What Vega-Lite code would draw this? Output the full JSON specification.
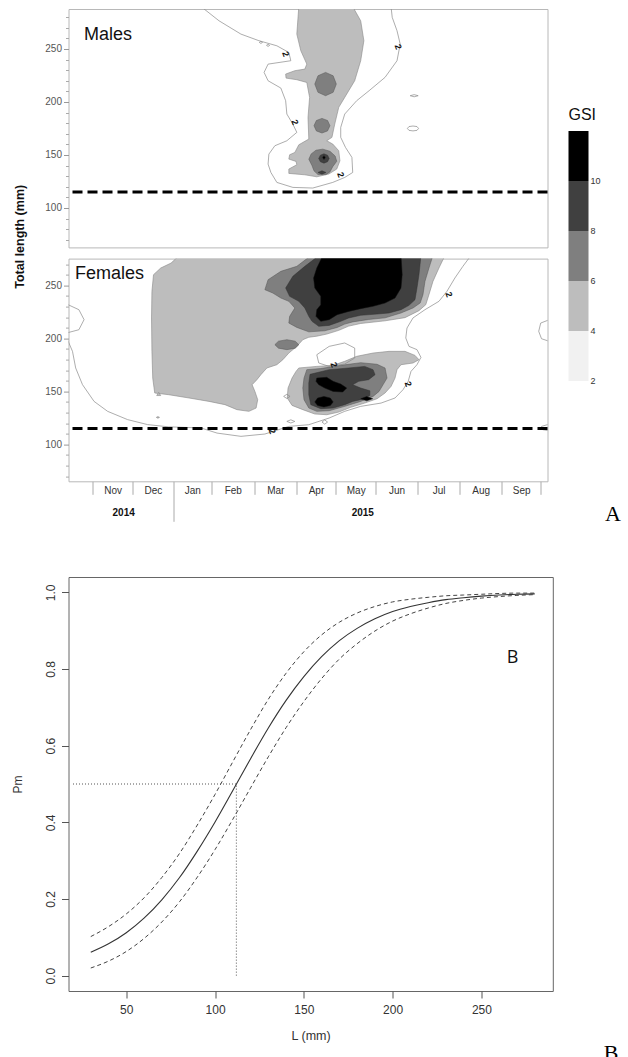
{
"$schema":"https://vega.github.io/schema/vega-lite/v6.json",
"padding":{"left":10.5,"top":8,"right":0,"bottom":0},
"config":{"font":"Liberation Sans","view":{"stroke":null},"axis":{"grid":false,"domain":false}},
"datasets":{
"poly":[
{"p":"M","id":"M4","lev":4,"o":1,"t":5.77,"L":290},{"p":"M","id":"M4","lev":4,"o":2,"t":5.72,"L":264.0},{"p":"M","id":"M4","lev":4,"o":3,"t":5.82,"L":248.3},{"p":"M","id":"M4","lev":4,"o":4,"t":5.97,"L":235.7},{"p":"M","id":"M4","lev":4,"o":5,"t":5.92,"L":231.0},{"p":"M","id":"M4","lev":4,"o":6,"t":5.67,"L":229.5},{"p":"M","id":"M4","lev":4,"o":7,"t":5.44,"L":226.3},{"p":"M","id":"M4","lev":4,"o":8,"t":5.45,"L":222.5},{"p":"M","id":"M4","lev":4,"o":9,"t":5.72,"L":221.0},{"p":"M","id":"M4","lev":4,"o":10,"t":5.97,"L":218.4},{"p":"M","id":"M4","lev":4,"o":11,"t":6.04,"L":204.3},{"p":"M","id":"M4","lev":4,"o":12,"t":6.00,"L":185.4},{"p":"M","id":"M4","lev":4,"o":13,"t":6.02,"L":165.0},{"p":"M","id":"M4","lev":4,"o":14,"t":5.77,"L":159.6},{"p":"M","id":"M4","lev":4,"o":15,"t":5.67,"L":152.4},{"p":"M","id":"M4","lev":4,"o":16,"t":5.54,"L":150.2},{"p":"M","id":"M4","lev":4,"o":17,"t":5.52,"L":146.1},{"p":"M","id":"M4","lev":4,"o":18,"t":5.70,"L":143.9},{"p":"M","id":"M4","lev":4,"o":19,"t":5.72,"L":140.8},{"p":"M","id":"M4","lev":4,"o":20,"t":5.52,"L":136.7},{"p":"M","id":"M4","lev":4,"o":21,"t":5.52,"L":132.6},{"p":"M","id":"M4","lev":4,"o":22,"t":5.92,"L":131.3},{"p":"M","id":"M4","lev":4,"o":23,"t":6.22,"L":129.4},{"p":"M","id":"M4","lev":4,"o":24,"t":6.52,"L":132.0},{"p":"M","id":"M4","lev":4,"o":25,"t":6.72,"L":136.7},{"p":"M","id":"M4","lev":4,"o":26,"t":6.80,"L":144.5},{"p":"M","id":"M4","lev":4,"o":27,"t":6.77,"L":154.0},{"p":"M","id":"M4","lev":4,"o":28,"t":6.62,"L":160.3},{"p":"M","id":"M4","lev":4,"o":29,"t":6.47,"L":163.4},{"p":"M","id":"M4","lev":4,"o":30,"t":6.60,"L":166.6},{"p":"M","id":"M4","lev":4,"o":31,"t":6.67,"L":179.1},{"p":"M","id":"M4","lev":4,"o":32,"t":6.77,"L":194.9},{"p":"M","id":"M4","lev":4,"o":33,"t":6.92,"L":204.3},{"p":"M","id":"M4","lev":4,"o":34,"t":7.17,"L":220.0},{"p":"M","id":"M4","lev":4,"o":35,"t":7.32,"L":238.9},{"p":"M","id":"M4","lev":4,"o":36,"t":7.40,"L":257.8},{"p":"M","id":"M4","lev":4,"o":37,"t":7.32,"L":276.6},{"p":"M","id":"M4","lev":4,"o":38,"t":7.12,"L":290},{"p":"M","id":"M4","lev":4,"o":39,"t":5.77,"L":290},
{"p":"M","id":"M6a","lev":6,"o":1,"t":6.17,"L":216.9},{"p":"M","id":"M6a","lev":6,"o":2,"t":6.25,"L":224.7},{"p":"M","id":"M6a","lev":6,"o":3,"t":6.44,"L":227.9},{"p":"M","id":"M6a","lev":6,"o":4,"t":6.63,"L":224.7},{"p":"M","id":"M6a","lev":6,"o":5,"t":6.71,"L":216.9},{"p":"M","id":"M6a","lev":6,"o":6,"t":6.63,"L":209.1},{"p":"M","id":"M6a","lev":6,"o":7,"t":6.44,"L":205.9},{"p":"M","id":"M6a","lev":6,"o":8,"t":6.25,"L":209.1},{"p":"M","id":"M6a","lev":6,"o":9,"t":6.17,"L":216.9},
{"p":"M","id":"M6b","lev":6,"o":1,"t":6.15,"L":177.6},{"p":"M","id":"M6b","lev":6,"o":2,"t":6.21,"L":182.5},{"p":"M","id":"M6b","lev":6,"o":3,"t":6.35,"L":184.5},{"p":"M","id":"M6b","lev":6,"o":4,"t":6.49,"L":182.5},{"p":"M","id":"M6b","lev":6,"o":5,"t":6.55,"L":177.6},{"p":"M","id":"M6b","lev":6,"o":6,"t":6.49,"L":172.7},{"p":"M","id":"M6b","lev":6,"o":7,"t":6.35,"L":170.7},{"p":"M","id":"M6b","lev":6,"o":8,"t":6.21,"L":172.7},{"p":"M","id":"M6b","lev":6,"o":9,"t":6.15,"L":177.6},
{"p":"M","id":"M6c","lev":6,"o":1,"t":6.02,"L":146},{"p":"M","id":"M6c","lev":6,"o":2,"t":6.08,"L":151},{"p":"M","id":"M6c","lev":6,"o":3,"t":6.2,"L":154.5},{"p":"M","id":"M6c","lev":6,"o":4,"t":6.37,"L":155.5},{"p":"M","id":"M6c","lev":6,"o":5,"t":6.55,"L":153.5},{"p":"M","id":"M6c","lev":6,"o":6,"t":6.68,"L":149},{"p":"M","id":"M6c","lev":6,"o":7,"t":6.72,"L":144},{"p":"M","id":"M6c","lev":6,"o":8,"t":6.62,"L":139},{"p":"M","id":"M6c","lev":6,"o":9,"t":6.55,"L":134},{"p":"M","id":"M6c","lev":6,"o":10,"t":6.45,"L":131.5},{"p":"M","id":"M6c","lev":6,"o":11,"t":6.25,"L":131.5},{"p":"M","id":"M6c","lev":6,"o":12,"t":6.15,"L":135},{"p":"M","id":"M6c","lev":6,"o":13,"t":6.1,"L":140},{"p":"M","id":"M6c","lev":6,"o":14,"t":6.02,"L":146},
{"p":"M","id":"M8a","lev":8,"o":1,"t":6.27,"L":146.7},{"p":"M","id":"M8a","lev":8,"o":2,"t":6.31,"L":149.8},{"p":"M","id":"M8a","lev":8,"o":3,"t":6.40,"L":151.1},{"p":"M","id":"M8a","lev":8,"o":4,"t":6.49,"L":149.8},{"p":"M","id":"M8a","lev":8,"o":5,"t":6.53,"L":146.7},{"p":"M","id":"M8a","lev":8,"o":6,"t":6.49,"L":143.6},{"p":"M","id":"M8a","lev":8,"o":7,"t":6.40,"L":142.3},{"p":"M","id":"M8a","lev":8,"o":8,"t":6.31,"L":143.6},{"p":"M","id":"M8a","lev":8,"o":9,"t":6.27,"L":146.7},
{"p":"M","id":"M8b","lev":8,"o":1,"t":6.25,"L":133.5},{"p":"M","id":"M8b","lev":8,"o":2,"t":6.35,"L":135.1},{"p":"M","id":"M8b","lev":8,"o":3,"t":6.45,"L":133.5},{"p":"M","id":"M8b","lev":8,"o":4,"t":6.35,"L":131.9},{"p":"M","id":"M8b","lev":8,"o":5,"t":6.25,"L":133.5},
{"p":"M","id":"M10a","lev":10,"o":1,"t":6.36,"L":147.5},{"p":"M","id":"M10a","lev":10,"o":2,"t":6.40,"L":149.5},{"p":"M","id":"M10a","lev":10,"o":3,"t":6.44,"L":147.5},{"p":"M","id":"M10a","lev":10,"o":4,"t":6.40,"L":145.5},{"p":"M","id":"M10a","lev":10,"o":5,"t":6.36,"L":147.5},
{"p":"F","id":"F4a","lev":4,"o":1,"t":2.77,"L":278},{"p":"F","id":"F4a","lev":4,"o":2,"t":9.43,"L":278},{"p":"F","id":"F4a","lev":4,"o":3,"t":9.28,"L":266.3},{"p":"F","id":"F4a","lev":4,"o":4,"t":9.13,"L":253.7},{"p":"F","id":"F4a","lev":4,"o":5,"t":9.03,"L":241.2},{"p":"F","id":"F4a","lev":4,"o":6,"t":8.95,"L":231.7},{"p":"F","id":"F4a","lev":4,"o":7,"t":8.78,"L":226.1},{"p":"F","id":"F4a","lev":4,"o":8,"t":8.43,"L":219.5},{"p":"F","id":"F4a","lev":4,"o":9,"t":7.93,"L":216.5},{"p":"F","id":"F4a","lev":4,"o":10,"t":7.32,"L":214.0},{"p":"F","id":"F4a","lev":4,"o":11,"t":7.02,"L":211.5},{"p":"F","id":"F4a","lev":4,"o":12,"t":6.77,"L":207.5},{"p":"F","id":"F4a","lev":4,"o":13,"t":6.47,"L":204.0},{"p":"F","id":"F4a","lev":4,"o":14,"t":6.22,"L":202.0},{"p":"F","id":"F4a","lev":4,"o":15,"t":6.02,"L":201.0},{"p":"F","id":"F4a","lev":4,"o":16,"t":5.87,"L":198.7},{"p":"F","id":"F4a","lev":4,"o":17,"t":5.72,"L":192.4},{"p":"F","id":"F4a","lev":4,"o":18,"t":5.52,"L":186.1},{"p":"F","id":"F4a","lev":4,"o":19,"t":5.37,"L":179.8},{"p":"F","id":"F4a","lev":4,"o":20,"t":5.22,"L":175.1},{"p":"F","id":"F4a","lev":4,"o":21,"t":4.97,"L":172.0},{"p":"F","id":"F4a","lev":4,"o":22,"t":4.82,"L":165.7},{"p":"F","id":"F4a","lev":4,"o":23,"t":4.72,"L":161.0},{"p":"F","id":"F4a","lev":4,"o":24,"t":4.60,"L":156.2},{"p":"F","id":"F4a","lev":4,"o":25,"t":4.67,"L":149.9},{"p":"F","id":"F4a","lev":4,"o":26,"t":4.74,"L":142.1},{"p":"F","id":"F4a","lev":4,"o":27,"t":4.70,"L":134.2},{"p":"F","id":"F4a","lev":4,"o":28,"t":4.52,"L":131.1},{"p":"F","id":"F4a","lev":4,"o":29,"t":4.22,"L":132.7},{"p":"F","id":"F4a","lev":4,"o":30,"t":3.92,"L":137.4},{"p":"F","id":"F4a","lev":4,"o":31,"t":3.52,"L":140.5},{"p":"F","id":"F4a","lev":4,"o":32,"t":3.02,"L":143.7},{"p":"F","id":"F4a","lev":4,"o":33,"t":2.51,"L":146.8},{"p":"F","id":"F4a","lev":4,"o":34,"t":2.16,"L":148.4},{"p":"F","id":"F4a","lev":4,"o":35,"t":2.11,"L":162.5},{"p":"F","id":"F4a","lev":4,"o":36,"t":2.09,"L":187.7},{"p":"F","id":"F4a","lev":4,"o":37,"t":2.08,"L":219.2},{"p":"F","id":"F4a","lev":4,"o":38,"t":2.09,"L":244.3},{"p":"F","id":"F4a","lev":4,"o":39,"t":2.13,"L":260.0},{"p":"F","id":"F4a","lev":4,"o":40,"t":2.31,"L":266.3},{"p":"F","id":"F4a","lev":4,"o":41,"t":2.57,"L":271.0},{"p":"F","id":"F4a","lev":4,"o":42,"t":2.77,"L":278},
{"p":"F","id":"F4b","lev":4,"o":1,"t":5.77,"L":172.0},{"p":"F","id":"F4b","lev":4,"o":2,"t":6.22,"L":173.5},{"p":"F","id":"F4b","lev":4,"o":3,"t":6.63,"L":174.5},{"p":"F","id":"F4b","lev":4,"o":4,"t":6.92,"L":178.3},{"p":"F","id":"F4b","lev":4,"o":5,"t":7.22,"L":183.0},{"p":"F","id":"F4b","lev":4,"o":6,"t":7.63,"L":186.1},{"p":"F","id":"F4b","lev":4,"o":7,"t":8.03,"L":187.7},{"p":"F","id":"F4b","lev":4,"o":8,"t":8.43,"L":187.7},{"p":"F","id":"F4b","lev":4,"o":9,"t":8.68,"L":183.9},{"p":"F","id":"F4b","lev":4,"o":10,"t":8.78,"L":179.8},{"p":"F","id":"F4b","lev":4,"o":11,"t":8.63,"L":176.7},{"p":"F","id":"F4b","lev":4,"o":12,"t":8.33,"L":175.1},{"p":"F","id":"F4b","lev":4,"o":13,"t":8.23,"L":170.4},{"p":"F","id":"F4b","lev":4,"o":14,"t":8.18,"L":162.5},{"p":"F","id":"F4b","lev":4,"o":15,"t":8.08,"L":154.6},{"p":"F","id":"F4b","lev":4,"o":16,"t":7.93,"L":148.4},{"p":"F","id":"F4b","lev":4,"o":17,"t":7.73,"L":143.0},{"p":"F","id":"F4b","lev":4,"o":18,"t":7.42,"L":138.9},{"p":"F","id":"F4b","lev":4,"o":19,"t":7.07,"L":134.9},{"p":"F","id":"F4b","lev":4,"o":20,"t":6.77,"L":130.4},{"p":"F","id":"F4b","lev":4,"o":21,"t":6.47,"L":127.9},{"p":"F","id":"F4b","lev":4,"o":22,"t":6.17,"L":128.6},{"p":"F","id":"F4b","lev":4,"o":23,"t":5.87,"L":132.7},{"p":"F","id":"F4b","lev":4,"o":24,"t":5.60,"L":136.7},{"p":"F","id":"F4b","lev":4,"o":25,"t":5.48,"L":143.7},{"p":"F","id":"F4b","lev":4,"o":26,"t":5.50,"L":153.1},{"p":"F","id":"F4b","lev":4,"o":27,"t":5.60,"L":162.5},{"p":"F","id":"F4b","lev":4,"o":28,"t":5.70,"L":168.8},{"p":"F","id":"F4b","lev":4,"o":29,"t":5.77,"L":172.0},
{"p":"F","id":"F4c","lev":4,"o":1,"t":2.21,"L":146},{"p":"F","id":"F4c","lev":4,"o":2,"t":2.26,"L":149},{"p":"F","id":"F4c","lev":4,"o":3,"t":2.31,"L":146},{"p":"F","id":"F4c","lev":4,"o":4,"t":2.21,"L":146},
{"p":"F","id":"F4d","lev":4,"o":1,"t":2.20,"L":125.4},{"p":"F","id":"F4d","lev":4,"o":2,"t":2.24,"L":126.2},{"p":"F","id":"F4d","lev":4,"o":3,"t":2.28,"L":125.4},{"p":"F","id":"F4d","lev":4,"o":4,"t":2.24,"L":124.6},{"p":"F","id":"F4d","lev":4,"o":5,"t":2.20,"L":125.4},
{"p":"F","id":"F6a","lev":6,"o":1,"t":6.07,"L":278},{"p":"F","id":"F6a","lev":6,"o":2,"t":5.72,"L":267.9},{"p":"F","id":"F6a","lev":6,"o":3,"t":5.32,"L":263.2},{"p":"F","id":"F6a","lev":6,"o":4,"t":5.00,"L":255.3},{"p":"F","id":"F6a","lev":6,"o":5,"t":4.92,"L":245.9},{"p":"F","id":"F6a","lev":6,"o":6,"t":5.12,"L":242.7},{"p":"F","id":"F6a","lev":6,"o":7,"t":5.32,"L":238.0},{"p":"F","id":"F6a","lev":6,"o":8,"t":5.52,"L":234.9},{"p":"F","id":"F6a","lev":6,"o":9,"t":5.67,"L":228.6},{"p":"F","id":"F6a","lev":6,"o":10,"t":5.54,"L":220.7},{"p":"F","id":"F6a","lev":6,"o":11,"t":5.52,"L":214.4},{"p":"F","id":"F6a","lev":6,"o":12,"t":5.72,"L":210.3},{"p":"F","id":"F6a","lev":6,"o":13,"t":6.02,"L":206.1},{"p":"F","id":"F6a","lev":6,"o":14,"t":6.42,"L":207.1},{"p":"F","id":"F6a","lev":6,"o":15,"t":6.73,"L":210.2},{"p":"F","id":"F6a","lev":6,"o":16,"t":6.92,"L":213.4},{"p":"F","id":"F6a","lev":6,"o":17,"t":7.12,"L":215.5},{"p":"F","id":"F6a","lev":6,"o":18,"t":7.52,"L":217.8},{"p":"F","id":"F6a","lev":6,"o":19,"t":7.93,"L":219.3},{"p":"F","id":"F6a","lev":6,"o":20,"t":8.33,"L":223.9},{"p":"F","id":"F6a","lev":6,"o":21,"t":8.63,"L":228.6},{"p":"F","id":"F6a","lev":6,"o":22,"t":8.81,"L":233.3},{"p":"F","id":"F6a","lev":6,"o":23,"t":8.88,"L":241.2},{"p":"F","id":"F6a","lev":6,"o":24,"t":8.93,"L":253.7},{"p":"F","id":"F6a","lev":6,"o":25,"t":9.03,"L":266.3},{"p":"F","id":"F6a","lev":6,"o":26,"t":9.13,"L":278},{"p":"F","id":"F6a","lev":6,"o":27,"t":6.07,"L":278},
{"p":"F","id":"F6b","lev":6,"o":1,"t":5.17,"L":194},{"p":"F","id":"F6b","lev":6,"o":2,"t":5.26,"L":197.3},{"p":"F","id":"F6b","lev":6,"o":3,"t":5.47,"L":198.7},{"p":"F","id":"F6b","lev":6,"o":4,"t":5.68,"L":197.3},{"p":"F","id":"F6b","lev":6,"o":5,"t":5.77,"L":194},{"p":"F","id":"F6b","lev":6,"o":6,"t":5.68,"L":190.7},{"p":"F","id":"F6b","lev":6,"o":7,"t":5.47,"L":189.3},{"p":"F","id":"F6b","lev":6,"o":8,"t":5.26,"L":190.7},{"p":"F","id":"F6b","lev":6,"o":9,"t":5.17,"L":194},
{"p":"F","id":"F6c","lev":6,"o":1,"t":5.97,"L":170.4},{"p":"F","id":"F6c","lev":6,"o":2,"t":6.32,"L":171.5},{"p":"F","id":"F6c","lev":6,"o":3,"t":6.82,"L":174.5},{"p":"F","id":"F6c","lev":6,"o":4,"t":7.32,"L":177.0},{"p":"F","id":"F6c","lev":6,"o":5,"t":7.73,"L":175.5},{"p":"F","id":"F6c","lev":6,"o":6,"t":7.93,"L":172.0},{"p":"F","id":"F6c","lev":6,"o":7,"t":7.98,"L":162.5},{"p":"F","id":"F6c","lev":6,"o":8,"t":7.88,"L":156.2},{"p":"F","id":"F6c","lev":6,"o":9,"t":7.78,"L":149.9},{"p":"F","id":"F6c","lev":6,"o":10,"t":7.63,"L":145.2},{"p":"F","id":"F6c","lev":6,"o":11,"t":7.32,"L":140.5},{"p":"F","id":"F6c","lev":6,"o":12,"t":6.92,"L":135.8},{"p":"F","id":"F6c","lev":6,"o":13,"t":6.53,"L":131.7},{"p":"F","id":"F6c","lev":6,"o":14,"t":6.22,"L":131.1},{"p":"F","id":"F6c","lev":6,"o":15,"t":6.02,"L":134.2},{"p":"F","id":"F6c","lev":6,"o":16,"t":5.90,"L":142.1},{"p":"F","id":"F6c","lev":6,"o":17,"t":5.87,"L":153.1},{"p":"F","id":"F6c","lev":6,"o":18,"t":5.90,"L":162.5},{"p":"F","id":"F6c","lev":6,"o":19,"t":5.97,"L":170.4},
{"p":"F","id":"F8a","lev":8,"o":1,"t":6.27,"L":278},{"p":"F","id":"F8a","lev":8,"o":2,"t":5.92,"L":267.9},{"p":"F","id":"F8a","lev":8,"o":3,"t":5.62,"L":258.5},{"p":"F","id":"F8a","lev":8,"o":4,"t":5.44,"L":247.5},{"p":"F","id":"F8a","lev":8,"o":5,"t":5.54,"L":239.6},{"p":"F","id":"F8a","lev":8,"o":6,"t":5.77,"L":234.9},{"p":"F","id":"F8a","lev":8,"o":7,"t":5.92,"L":228.6},{"p":"F","id":"F8a","lev":8,"o":8,"t":6.02,"L":220.7},{"p":"F","id":"F8a","lev":8,"o":9,"t":6.10,"L":216.0},{"p":"F","id":"F8a","lev":8,"o":10,"t":6.27,"L":211.3},{"p":"F","id":"F8a","lev":8,"o":11,"t":6.53,"L":212.2},{"p":"F","id":"F8a","lev":8,"o":12,"t":6.82,"L":216.0},{"p":"F","id":"F8a","lev":8,"o":13,"t":7.02,"L":219.2},{"p":"F","id":"F8a","lev":8,"o":14,"t":7.32,"L":221.7},{"p":"F","id":"F8a","lev":8,"o":15,"t":7.73,"L":222.9},{"p":"F","id":"F8a","lev":8,"o":16,"t":8.03,"L":223.9},{"p":"F","id":"F8a","lev":8,"o":17,"t":8.33,"L":227.0},{"p":"F","id":"F8a","lev":8,"o":18,"t":8.53,"L":231.1},{"p":"F","id":"F8a","lev":8,"o":19,"t":8.68,"L":236.4},{"p":"F","id":"F8a","lev":8,"o":20,"t":8.73,"L":247.5},{"p":"F","id":"F8a","lev":8,"o":21,"t":8.78,"L":260.0},{"p":"F","id":"F8a","lev":8,"o":22,"t":8.83,"L":278},{"p":"F","id":"F8a","lev":8,"o":23,"t":6.27,"L":278},
{"p":"F","id":"F8b","lev":8,"o":1,"t":6.05,"L":166},{"p":"F","id":"F8b","lev":8,"o":2,"t":6.53,"L":170.4},{"p":"F","id":"F8b","lev":8,"o":3,"t":7.02,"L":172.0},{"p":"F","id":"F8b","lev":8,"o":4,"t":7.42,"L":173.5},{"p":"F","id":"F8b","lev":8,"o":5,"t":7.63,"L":170.4},{"p":"F","id":"F8b","lev":8,"o":6,"t":7.68,"L":165.7},{"p":"F","id":"F8b","lev":8,"o":7,"t":7.52,"L":161.0},{"p":"F","id":"F8b","lev":8,"o":8,"t":7.27,"L":159.4},{"p":"F","id":"F8b","lev":8,"o":9,"t":7.12,"L":156.2},{"p":"F","id":"F8b","lev":8,"o":10,"t":7.32,"L":153.1},{"p":"F","id":"F8b","lev":8,"o":11,"t":7.55,"L":150.5},{"p":"F","id":"F8b","lev":8,"o":12,"t":7.55,"L":146},{"p":"F","id":"F8b","lev":8,"o":13,"t":7.40,"L":142.8},{"p":"F","id":"F8b","lev":8,"o":14,"t":7.12,"L":140.5},{"p":"F","id":"F8b","lev":8,"o":15,"t":6.92,"L":137.4},{"p":"F","id":"F8b","lev":8,"o":16,"t":6.63,"L":134.2},{"p":"F","id":"F8b","lev":8,"o":17,"t":6.32,"L":133.6},{"p":"F","id":"F8b","lev":8,"o":18,"t":6.07,"L":137.4},{"p":"F","id":"F8b","lev":8,"o":19,"t":6.02,"L":146.8},{"p":"F","id":"F8b","lev":8,"o":20,"t":6.02,"L":157.8},{"p":"F","id":"F8b","lev":8,"o":21,"t":6.05,"L":166},
{"p":"F","id":"F10a","lev":10,"o":1,"t":6.37,"L":278},{"p":"F","id":"F10a","lev":10,"o":2,"t":6.22,"L":266.3},{"p":"F","id":"F10a","lev":10,"o":3,"t":6.14,"L":256.9},{"p":"F","id":"F10a","lev":10,"o":4,"t":6.17,"L":247.5},{"p":"F","id":"F10a","lev":10,"o":5,"t":6.32,"L":239.6},{"p":"F","id":"F10a","lev":10,"o":6,"t":6.32,"L":231.7},{"p":"F","id":"F10a","lev":10,"o":7,"t":6.22,"L":227.0},{"p":"F","id":"F10a","lev":10,"o":8,"t":6.20,"L":220.7},{"p":"F","id":"F10a","lev":10,"o":9,"t":6.32,"L":216.0},{"p":"F","id":"F10a","lev":10,"o":10,"t":6.53,"L":217.6},{"p":"F","id":"F10a","lev":10,"o":11,"t":6.73,"L":222.3},{"p":"F","id":"F10a","lev":10,"o":12,"t":7.02,"L":225.4},{"p":"F","id":"F10a","lev":10,"o":13,"t":7.32,"L":228.0},{"p":"F","id":"F10a","lev":10,"o":14,"t":7.63,"L":230.2},{"p":"F","id":"F10a","lev":10,"o":15,"t":7.93,"L":233.3},{"p":"F","id":"F10a","lev":10,"o":16,"t":8.18,"L":238.0},{"p":"F","id":"F10a","lev":10,"o":17,"t":8.33,"L":247.5},{"p":"F","id":"F10a","lev":10,"o":18,"t":8.36,"L":260.0},{"p":"F","id":"F10a","lev":10,"o":19,"t":8.33,"L":278},{"p":"F","id":"F10a","lev":10,"o":20,"t":6.37,"L":278},
{"p":"F","id":"F10b","lev":10,"o":1,"t":6.22,"L":162.5},{"p":"F","id":"F10b","lev":10,"o":2,"t":6.47,"L":163.2},{"p":"F","id":"F10b","lev":10,"o":3,"t":6.63,"L":159.4},{"p":"F","id":"F10b","lev":10,"o":4,"t":6.82,"L":156.9},{"p":"F","id":"F10b","lev":10,"o":5,"t":6.97,"L":153.1},{"p":"F","id":"F10b","lev":10,"o":6,"t":6.87,"L":149.3},{"p":"F","id":"F10b","lev":10,"o":7,"t":6.63,"L":149.9},{"p":"F","id":"F10b","lev":10,"o":8,"t":6.42,"L":153.1},{"p":"F","id":"F10b","lev":10,"o":9,"t":6.27,"L":156.2},{"p":"F","id":"F10b","lev":10,"o":10,"t":6.20,"L":159.4},{"p":"F","id":"F10b","lev":10,"o":11,"t":6.22,"L":162.5},
{"p":"F","id":"F10c","lev":10,"o":1,"t":6.17,"L":140},{"p":"F","id":"F10c","lev":10,"o":2,"t":6.24,"L":143.6},{"p":"F","id":"F10c","lev":10,"o":3,"t":6.40,"L":145.2},{"p":"F","id":"F10c","lev":10,"o":4,"t":6.56,"L":143.6},{"p":"F","id":"F10c","lev":10,"o":5,"t":6.63,"L":140},{"p":"F","id":"F10c","lev":10,"o":6,"t":6.56,"L":136.6},{"p":"F","id":"F10c","lev":10,"o":7,"t":6.40,"L":135.2},{"p":"F","id":"F10c","lev":10,"o":8,"t":6.24,"L":136.6},{"p":"F","id":"F10c","lev":10,"o":9,"t":6.17,"L":140},
{"p":"F","id":"F10d","lev":10,"o":1,"t":7.32,"L":143},{"p":"F","id":"F10d","lev":10,"o":2,"t":7.47,"L":145},{"p":"F","id":"F10d","lev":10,"o":3,"t":7.62,"L":143},{"p":"F","id":"F10d","lev":10,"o":4,"t":7.47,"L":141},{"p":"F","id":"F10d","lev":10,"o":5,"t":7.32,"L":143}
],
"cline":[
{"p":"M","id":"Mc1","o":1,"t":3.32,"L":290},{"p":"M","id":"Mc1","o":2,"t":3.77,"L":276.6},{"p":"M","id":"Mc1","o":3,"t":4.32,"L":264.0},{"p":"M","id":"Mc1","o":4,"t":4.77,"L":257.8},{"p":"M","id":"Mc1","o":5,"t":5.22,"L":253.0},{"p":"M","id":"Mc1","o":6,"t":5.52,"L":246.7},{"p":"M","id":"Mc1","o":7,"t":5.57,"L":238.9},{"p":"M","id":"Mc1","o":8,"t":5.00,"L":235.7},{"p":"M","id":"Mc1","o":9,"t":4.90,"L":227.9},{"p":"M","id":"Mc1","o":10,"t":5.00,"L":220.0},{"p":"M","id":"Mc1","o":11,"t":5.32,"L":213.1},{"p":"M","id":"Mc1","o":12,"t":5.44,"L":201.2},{"p":"M","id":"Mc1","o":13,"t":5.47,"L":188.6},{"p":"M","id":"Mc1","o":14,"t":5.62,"L":179.1},{"p":"M","id":"Mc1","o":15,"t":5.72,"L":171.3},{"p":"M","id":"Mc1","o":16,"t":5.47,"L":163.4},{"p":"M","id":"Mc1","o":17,"t":5.17,"L":158.7},{"p":"M","id":"Mc1","o":18,"t":5.02,"L":150.8},{"p":"M","id":"Mc1","o":19,"t":5.00,"L":141.4},{"p":"M","id":"Mc1","o":20,"t":5.07,"L":133.5},{"p":"M","id":"Mc1","o":21,"t":5.22,"L":124.1},{"p":"M","id":"Mc1","o":22,"t":5.62,"L":119.4},{"p":"M","id":"Mc1","o":23,"t":6.12,"L":118.8},{"p":"M","id":"Mc1","o":24,"t":6.62,"L":124.1},{"p":"M","id":"Mc1","o":25,"t":6.92,"L":128.8},{"p":"M","id":"Mc1","o":26,"t":7.12,"L":133.5},{"p":"M","id":"Mc1","o":27,"t":7.10,"L":147.7},{"p":"M","id":"Mc1","o":28,"t":6.94,"L":157.1},{"p":"M","id":"Mc1","o":29,"t":6.82,"L":166.6},{"p":"M","id":"Mc1","o":30,"t":6.82,"L":176.0},{"p":"M","id":"Mc1","o":31,"t":6.92,"L":188.6},{"p":"M","id":"Mc1","o":32,"t":7.22,"L":201.2},{"p":"M","id":"Mc1","o":33,"t":7.53,"L":210.6},{"p":"M","id":"Mc1","o":34,"t":7.93,"L":223.2},{"p":"M","id":"Mc1","o":35,"t":8.23,"L":238.9},{"p":"M","id":"Mc1","o":36,"t":8.31,"L":254.6},{"p":"M","id":"Mc1","o":37,"t":8.23,"L":267.2},{"p":"M","id":"Mc1","o":38,"t":8.11,"L":279.8},{"p":"M","id":"Mc1","o":39,"t":8.08,"L":290},
{"p":"M","id":"Mc2","o":1,"t":8.56,"L":205.9},{"p":"M","id":"Mc2","o":2,"t":8.66,"L":206.9},{"p":"M","id":"Mc2","o":3,"t":8.76,"L":205.9},{"p":"M","id":"Mc2","o":4,"t":8.66,"L":204.9},{"p":"M","id":"Mc2","o":5,"t":8.56,"L":205.9},
{"p":"M","id":"Mc3","o":1,"t":8.49,"L":175},{"p":"M","id":"Mc3","o":2,"t":8.53,"L":176.8},{"p":"M","id":"Mc3","o":3,"t":8.63,"L":177.3},{"p":"M","id":"Mc3","o":4,"t":8.73,"L":176.8},{"p":"M","id":"Mc3","o":5,"t":8.77,"L":175},{"p":"M","id":"Mc3","o":6,"t":8.73,"L":173.2},{"p":"M","id":"Mc3","o":7,"t":8.63,"L":172.7},{"p":"M","id":"Mc3","o":8,"t":8.53,"L":173.2},{"p":"M","id":"Mc3","o":9,"t":8.49,"L":175},
{"p":"M","id":"Mc4","o":1,"t":4.78,"L":256.2},{"p":"M","id":"Mc4","o":2,"t":4.82,"L":257.2},{"p":"M","id":"Mc4","o":3,"t":4.86,"L":256.2},{"p":"M","id":"Mc4","o":4,"t":4.82,"L":255.2},{"p":"M","id":"Mc4","o":5,"t":4.78,"L":256.2},
{"p":"M","id":"Mc5","o":1,"t":4.96,"L":253.4},{"p":"M","id":"Mc5","o":2,"t":5.00,"L":254.4},{"p":"M","id":"Mc5","o":3,"t":5.04,"L":253.4},{"p":"M","id":"Mc5","o":4,"t":5.00,"L":252.4},{"p":"M","id":"Mc5","o":5,"t":4.96,"L":253.4},
{"p":"F","id":"Fc1","o":1,"t":-0.05,"L":232.4},{"p":"F","id":"Fc1","o":2,"t":0.26,"L":227.0},{"p":"F","id":"Fc1","o":3,"t":0.39,"L":217.6},{"p":"F","id":"Fc1","o":4,"t":0.26,"L":208.1},{"p":"F","id":"Fc1","o":5,"t":-0.05,"L":205.0},
{"p":"F","id":"Fc2","o":1,"t":-0.05,"L":200.9},{"p":"F","id":"Fc2","o":2,"t":0.10,"L":187.7},{"p":"F","id":"Fc2","o":3,"t":0.18,"L":172.0},{"p":"F","id":"Fc2","o":4,"t":0.35,"L":156.3},{"p":"F","id":"Fc2","o":5,"t":0.64,"L":140.5},{"p":"F","id":"Fc2","o":6,"t":0.98,"L":131.1},{"p":"F","id":"Fc2","o":7,"t":1.48,"L":123.3},{"p":"F","id":"Fc2","o":8,"t":1.98,"L":118.6},{"p":"F","id":"Fc2","o":9,"t":2.5,"L":116.5},{"p":"F","id":"Fc2","o":10,"t":3.32,"L":115.4},{"p":"F","id":"Fc2","o":11,"t":3.72,"L":110.6},{"p":"F","id":"Fc2","o":12,"t":4.32,"L":107.5},{"p":"F","id":"Fc2","o":13,"t":4.92,"L":109.7},{"p":"F","id":"Fc2","o":14,"t":5.52,"L":116.9},{"p":"F","id":"Fc2","o":15,"t":6.02,"L":118.5},{"p":"F","id":"Fc2","o":16,"t":6.53,"L":124.8},{"p":"F","id":"Fc2","o":17,"t":6.92,"L":131.1},{"p":"F","id":"Fc2","o":18,"t":7.32,"L":135.8},{"p":"F","id":"Fc2","o":19,"t":7.83,"L":138.9},{"p":"F","id":"Fc2","o":20,"t":8.18,"L":143.7},{"p":"F","id":"Fc2","o":21,"t":8.38,"L":151.5},{"p":"F","id":"Fc2","o":22,"t":8.51,"L":159.4},{"p":"F","id":"Fc2","o":23,"t":8.58,"L":168.8},{"p":"F","id":"Fc2","o":24,"t":8.73,"L":175.1},{"p":"F","id":"Fc2","o":25,"t":8.83,"L":182.0},{"p":"F","id":"Fc2","o":26,"t":8.73,"L":189.3},{"p":"F","id":"Fc2","o":27,"t":8.53,"L":192.4},{"p":"F","id":"Fc2","o":28,"t":8.45,"L":200.3},{"p":"F","id":"Fc2","o":29,"t":8.48,"L":209.7},{"p":"F","id":"Fc2","o":30,"t":8.63,"L":219.2},{"p":"F","id":"Fc2","o":31,"t":8.93,"L":227.0},{"p":"F","id":"Fc2","o":32,"t":9.28,"L":234.9},{"p":"F","id":"Fc2","o":33,"t":9.48,"L":244.3},{"p":"F","id":"Fc2","o":34,"t":9.68,"L":256.9},{"p":"F","id":"Fc2","o":35,"t":9.88,"L":267.9},{"p":"F","id":"Fc2","o":36,"t":10.08,"L":278},
{"p":"F","id":"Fc3","o":1,"t":6.22,"L":184.5},{"p":"F","id":"Fc3","o":2,"t":6.53,"L":192.4},{"p":"F","id":"Fc3","o":3,"t":6.92,"L":195.6},{"p":"F","id":"Fc3","o":4,"t":7.17,"L":190.8},{"p":"F","id":"Fc3","o":5,"t":7.17,"L":181.4},{"p":"F","id":"Fc3","o":6,"t":6.92,"L":175.7},{"p":"F","id":"Fc3","o":7,"t":6.53,"L":173.5},{"p":"F","id":"Fc3","o":8,"t":6.27,"L":176.7},{"p":"F","id":"Fc3","o":9,"t":6.22,"L":184.5},
{"p":"F","id":"Fc4","o":1,"t":12.05,"L":217.6},{"p":"F","id":"Fc4","o":2,"t":11.83,"L":214.4},{"p":"F","id":"Fc4","o":3,"t":11.78,"L":206.6},{"p":"F","id":"Fc4","o":4,"t":11.85,"L":199.6},{"p":"F","id":"Fc4","o":5,"t":12.05,"L":197.1},
{"p":"F","id":"Fc5","o":1,"t":12.05,"L":119.1},{"p":"F","id":"Fc5","o":2,"t":11.85,"L":116.9},{"p":"F","id":"Fc5","o":3,"t":11.88,"L":113.8},{"p":"F","id":"Fc5","o":4,"t":12.05,"L":112.8},
{"p":"F","id":"Fc6","o":1,"t":5.39,"L":145.2},{"p":"F","id":"Fc6","o":2,"t":5.47,"L":147.2},{"p":"F","id":"Fc6","o":3,"t":5.55,"L":145.2},{"p":"F","id":"Fc6","o":4,"t":5.47,"L":143.2},{"p":"F","id":"Fc6","o":5,"t":5.39,"L":145.2},
{"p":"F","id":"Fc7","o":1,"t":5.47,"L":121.6},{"p":"F","id":"Fc7","o":2,"t":5.57,"L":123.1},{"p":"F","id":"Fc7","o":3,"t":5.67,"L":121.6},{"p":"F","id":"Fc7","o":4,"t":5.57,"L":120.1},{"p":"F","id":"Fc7","o":5,"t":5.47,"L":121.6},
{"p":"F","id":"Fc8","o":1,"t":6.35,"L":121},{"p":"F","id":"Fc8","o":2,"t":6.42,"L":123},{"p":"F","id":"Fc8","o":3,"t":6.49,"L":121},{"p":"F","id":"Fc8","o":4,"t":6.42,"L":119},{"p":"F","id":"Fc8","o":5,"t":6.35,"L":121}
],
"lab":[
{"p":"M","t":5.44,"L":245.2,"txt":"2"},{"p":"M","t":5.67,"L":180.7,"txt":"2"},{"p":"M","t":6.82,"L":131.3,"txt":"2"},{"p":"M","t":8.26,"L":252.1,"txt":"2"},
{"p":"F","t":9.53,"L":241.2,"txt":"2"},{"p":"F","t":6.65,"L":175.1,"txt":"2"},{"p":"F","t":8.51,"L":156.9,"txt":"2"},{"p":"F","t":5.10,"L":112.2,"txt":"2"}
],
"mat":[{"L50":115}],
"curve":[
{"L":30,"mid":0.061,"lo":0.020,"hi":0.102},{"L":40,"mid":0.083,"lo":0.038,"hi":0.128},{"L":50,"mid":0.112,"lo":0.063,"hi":0.161},{"L":60,"mid":0.150,"lo":0.097,"hi":0.203},{"L":70,"mid":0.198,"lo":0.140,"hi":0.256},{"L":80,"mid":0.256,"lo":0.193,"hi":0.319},{"L":90,"mid":0.325,"lo":0.257,"hi":0.393},{"L":100,"mid":0.401,"lo":0.329,"hi":0.473},{"L":110,"mid":0.483,"lo":0.408,"hi":0.558},{"L":120,"mid":0.566,"lo":0.490,"hi":0.642},{"L":130,"mid":0.646,"lo":0.571,"hi":0.721},{"L":140,"mid":0.718,"lo":0.647,"hi":0.789},{"L":150,"mid":0.780,"lo":0.715,"hi":0.845},{"L":160,"mid":0.832,"lo":0.775,"hi":0.889},{"L":170,"mid":0.874,"lo":0.826,"hi":0.922},{"L":180,"mid":0.906,"lo":0.866,"hi":0.946},{"L":190,"mid":0.931,"lo":0.899,"hi":0.963},{"L":200,"mid":0.950,"lo":0.925,"hi":0.975},{"L":210,"mid":0.963,"lo":0.944,"hi":0.982},{"L":220,"mid":0.973,"lo":0.959,"hi":0.987},{"L":230,"mid":0.981,"lo":0.971,"hi":0.991},{"L":240,"mid":0.986,"lo":0.979,"hi":0.993},{"L":250,"mid":0.990,"lo":0.985,"hi":0.995},{"L":260,"mid":0.993,"lo":0.989,"hi":0.997},{"L":270,"mid":0.995,"lo":0.992,"hi":0.998},{"L":280,"mid":0.996,"lo":0.994,"hi":0.998}
],
"ref":[{"L":20,"P":0.5,"o":1},{"L":112,"P":0.5,"o":2},{"L":112,"P":0,"o":3}]
},
"concat":[
{"vconcat":[
 {"width":479,"height":238.4,"view":{"stroke":"#b8b8b8"},
  "layer":[
   {"data":{"name":"poly"},"transform":[{"filter":"datum.p == 'M' && datum.lev == 4"}],
    "mark":{"type":"line","clip":true,"stroke":"#888","strokeWidth":0.6},
    "encoding":{"x":{"field":"t","type":"quantitative","scale":{"domain":[0,12],"nice":false,"zero":false},"axis":null},
     "y":{"field":"L","type":"quantitative","scale":{"domain":[62.8,287.7],"nice":false,"zero":false},"axis":{"orient":"left","values":[100,150,200,250],"tickSize":5,"tickColor":"#999","labelFontSize":10,"labelColor":"#555","labelPadding":2,"title":null}},
     "detail":{"field":"id"},"order":{"field":"o","type":"quantitative"},
     "fill":{"field":"lev","type":"quantitative","scale":{"type":"quantize","domain":[0,12],"nice":false,"range":["transparent","#f1f1f1","#bdbdbd","#7f7f7f","#404040","#000000"]},
       "legend":{"type":"gradient","title":"GSI","orient":"none","legendX":500,"legendY":98,"direction":"vertical","gradientLength":300,"gradientThickness":20,"gradientStrokeWidth":0,"titleFontSize":16,"titleFontWeight":"normal","titleColor":"#111","titlePadding":8,"titleAnchor":"start","titleAlign":"left","labelFontSize":9,"labelColor":"#333","labelBaseline":"middle","labelOffset":2,"format":"d","padding":0}}}},
   {"data":{"name":"poly"},"transform":[{"filter":"datum.p == 'M' && datum.lev == 6"}],
    "mark":{"type":"line","clip":true,"stroke":"#555","strokeWidth":0.5},
    "encoding":{"x":{"field":"t","type":"quantitative","axis":null},
     "y":{"field":"L","type":"quantitative","axis":{"orient":"left","values":[70,80,90,110,120,130,140,160,170,180,190,210,220,230,240,260,270,280],"tickSize":3,"tickColor":"#aaa","labels":false,"title":null}},
     "detail":{"field":"id"},"order":{"field":"o","type":"quantitative"},"fill":{"field":"lev","type":"quantitative","scale":{"type":"quantize","domain":[0,12],"nice":false,"range":["transparent","#f1f1f1","#bdbdbd","#7f7f7f","#404040","#000000"]}}}},
   {"data":{"name":"poly"},"transform":[{"filter":"datum.p == 'M' && datum.lev >= 8"}],
    "mark":{"type":"line","clip":true,"stroke":"#333","strokeWidth":0.5},
    "encoding":{"x":{"field":"t","type":"quantitative","axis":null},"y":{"field":"L","type":"quantitative","axis":null},
     "detail":{"field":"id"},"order":{"field":"o","type":"quantitative"},"fill":{"field":"lev","type":"quantitative","scale":{"type":"quantize","domain":[0,12],"nice":false,"range":["transparent","#f1f1f1","#bdbdbd","#7f7f7f","#404040","#000000"]}}}},
   {"data":{"name":"cline"},"transform":[{"filter":"datum.p == 'M'"}],
    "mark":{"type":"line","clip":true,"stroke":"#8a8a8a","strokeWidth":0.7},
    "encoding":{"x":{"field":"t","type":"quantitative","axis":null},"y":{"field":"L","type":"quantitative","axis":null},"detail":{"field":"id"},"order":{"field":"o","type":"quantitative"}}},
   {"data":{"name":"lab"},"transform":[{"filter":"datum.p == 'M'"}],
    "mark":{"type":"text","fontSize":9,"fontWeight":"bold","angle":70,"color":"#111"},
    "encoding":{"x":{"field":"t","type":"quantitative","axis":null},"y":{"field":"L","type":"quantitative","axis":null},"text":{"field":"txt"}}},
   {"data":{"name":"mat"},"mark":{"type":"rule","strokeDash":[10,5],"strokeWidth":3,"color":"#000"},
    "encoding":{"y":{"field":"L50","type":"quantitative","axis":null}}},
   {"data":{"values":[{"sex":"Males"}]},"mark":{"type":"text","align":"left","baseline":"middle","fontSize":18,"color":"#111"},
    "encoding":{"x":{"datum":0.39,"type":"quantitative","axis":null},"y":{"datum":263.4,"type":"quantitative","axis":null},"text":{"field":"sex"}}}
  ],
  "resolve":{"axis":{"y":"independent"}}},
 {"width":479,"height":222.7,"view":{"stroke":"#b8b8b8"},
  "layer":[
   {"data":{"name":"poly"},"transform":[{"filter":"datum.p == 'F' && datum.lev == 4"}],
    "mark":{"type":"line","clip":true,"stroke":"#888","strokeWidth":0.6},
    "encoding":{"x":{"field":"t","type":"quantitative","scale":{"domain":[0,12],"nice":false,"zero":false},
       "axis":{"orient":"bottom","values":[1.105,2.115,3.1,4.115,5.18,6.2,7.195,8.22,9.27,10.325,11.34],"labelExpr":"['Nov','Dec','Jan','Feb','Mar','Apr','May','Jun','Jul','Aug','Sep'][round(datum.value - 1.1)]","ticks":false,"labelPadding":4,"labelFontSize":10,"labelColor":"#333","labelFlush":false,"labelOverlap":false,"title":null}},
     "y":{"field":"L","type":"quantitative","scale":{"domain":[65.1,275.2],"nice":false,"zero":false},
       "axis":{"orient":"left","values":[100,150,200,250],"tickSize":5,"tickColor":"#999","labelFontSize":10,"labelColor":"#555","labelPadding":2,"title":"Total length (mm)","titleFontSize":12.5,"titleFontWeight":"bold","titleColor":"#111","titleAngle":270,"titleAlign":"center","titleBaseline":"middle","titleX":-48.7,"titleY":-22.3}},
     "detail":{"field":"id"},"order":{"field":"o","type":"quantitative"},"fill":{"field":"lev","type":"quantitative","scale":{"type":"quantize","domain":[0,12],"nice":false,"range":["transparent","#f1f1f1","#bdbdbd","#7f7f7f","#404040","#000000"]}}}},
   {"data":{"name":"poly"},"transform":[{"filter":"datum.p == 'F' && datum.lev == 6"}],
    "mark":{"type":"line","clip":true,"stroke":"#555","strokeWidth":0.5},
    "encoding":{"x":{"field":"t","type":"quantitative","axis":{"orient":"bottom","values":[0.6,1.61,3.58,4.65,5.71,6.69,7.7,8.74,9.8,10.85,11.83],"tickSize":13,"tickColor":"#aaa","labels":false,"title":null}},
     "y":{"field":"L","type":"quantitative","axis":{"orient":"left","values":[70,80,90,110,120,130,140,160,170,180,190,210,220,230,240,260,270],"tickSize":3,"tickColor":"#aaa","labels":false,"title":null}},
     "detail":{"field":"id"},"order":{"field":"o","type":"quantitative"},"fill":{"field":"lev","type":"quantitative","scale":{"type":"quantize","domain":[0,12],"nice":false,"range":["transparent","#f1f1f1","#bdbdbd","#7f7f7f","#404040","#000000"]}}}},
   {"data":{"name":"poly"},"transform":[{"filter":"datum.p == 'F' && datum.lev == 8"}],
    "mark":{"type":"line","clip":true,"stroke":"#333","strokeWidth":0.5},
    "encoding":{"x":{"field":"t","type":"quantitative","axis":{"orient":"bottom","values":[2.62],"tickSize":40,"tickColor":"#aaa","labels":false,"title":"A","titleX":544,"titleY":31.7,"titleFont":"Liberation Serif","titleFontSize":22,"titleFontWeight":"normal","titleAlign":"center","titleBaseline":"middle","titleColor":"#000"}},
     "y":{"field":"L","type":"quantitative","axis":null},
     "detail":{"field":"id"},"order":{"field":"o","type":"quantitative"},"fill":{"field":"lev","type":"quantitative","scale":{"type":"quantize","domain":[0,12],"nice":false,"range":["transparent","#f1f1f1","#bdbdbd","#7f7f7f","#404040","#000000"]}}}},
   {"data":{"name":"poly"},"transform":[{"filter":"datum.p == 'F' && datum.lev == 10"}],
    "mark":{"type":"line","clip":true,"stroke":"#111","strokeWidth":0.5},
    "encoding":{"x":{"field":"t","type":"quantitative","axis":{"orient":"bottom","values":[1.37,7.36],"ticks":false,"labelExpr":"datum.value < 3 ? '2014' : '2015'","labelPadding":26,"labelFontSize":10,"labelFontWeight":"bold","labelColor":"#111","labelFlush":false,"title":null}},
     "y":{"field":"L","type":"quantitative","axis":null},
     "detail":{"field":"id"},"order":{"field":"o","type":"quantitative"},"fill":{"field":"lev","type":"quantitative","scale":{"type":"quantize","domain":[0,12],"nice":false,"range":["transparent","#f1f1f1","#bdbdbd","#7f7f7f","#404040","#000000"]}}}},
   {"data":{"name":"cline"},"transform":[{"filter":"datum.p == 'F'"}],
    "mark":{"type":"line","clip":true,"stroke":"#8a8a8a","strokeWidth":0.7},
    "encoding":{"x":{"field":"t","type":"quantitative","axis":null},"y":{"field":"L","type":"quantitative","axis":null},"detail":{"field":"id"},"order":{"field":"o","type":"quantitative"}}},
   {"data":{"name":"lab"},"transform":[{"filter":"datum.p == 'F'"}],
    "mark":{"type":"text","fontSize":9,"fontWeight":"bold","angle":70,"color":"#111"},
    "encoding":{"x":{"field":"t","type":"quantitative","axis":null},"y":{"field":"L","type":"quantitative","axis":null},"text":{"field":"txt"}}},
   {"data":{"name":"mat"},"mark":{"type":"rule","strokeDash":[10,5],"strokeWidth":3,"color":"#000"},
    "encoding":{"y":{"field":"L50","type":"quantitative","axis":null}}},
   {"data":{"values":[{"sex":"Females"}]},"mark":{"type":"text","align":"left","baseline":"middle","fontSize":18,"color":"#111"},
    "encoding":{"x":{"datum":0.16,"type":"quantitative","axis":null},"y":{"datum":260.6,"type":"quantitative","axis":null},"text":{"field":"sex"}}}
  ],
  "resolve":{"axis":{"x":"independent","y":"independent"}}}
 ],"spacing":10.6,"bounds":"flush"},
{"width":484.3,"height":414,"view":{"stroke":"#666"},
 "data":{"name":"curve"},
 "layer":[
  {"mark":{"type":"line","stroke":"#333","strokeWidth":1.1,"interpolate":"monotone"},
   "encoding":{"x":{"field":"L","type":"quantitative","scale":{"domain":[17.46,290.2],"nice":false,"zero":false},
      "axis":{"values":[50,100,150,200,250],"tickSize":7,"tickColor":"#555","labelFontSize":12,"labelColor":"#333","labelPadding":6,"title":"L (mm)","titleFontSize":12.5,"titleFontWeight":"normal","titleColor":"#333","titlePadding":14}},
    "y":{"field":"mid","type":"quantitative","scale":{"domain":[-0.04,1.04],"nice":false,"zero":false},
      "axis":{"orient":"left","values":[0,0.2,0.4,0.6,0.8,1],"format":".1f","tickSize":7,"tickColor":"#555","labelAngle":270,"labelAlign":"center","labelBaseline":"bottom","labelPadding":4,"labelFontSize":12,"labelColor":"#333","title":"Pm","titleX":-51,"titleY":207,"titleAngle":270,"titleAlign":"center","titleBaseline":"middle","titleFontSize":12,"titleFontWeight":"normal","titleColor":"#333"}}}},
  {"mark":{"type":"line","stroke":"#444","strokeWidth":1,"strokeDash":[4,3],"interpolate":"monotone"},
   "encoding":{"x":{"field":"L","type":"quantitative","axis":{"orient":"bottom","ticks":false,"labels":false,"title":"B","titleX":542,"titleY":61,"titleFont":"Liberation Serif","titleFontSize":22,"titleFontWeight":"normal","titleAlign":"center","titleBaseline":"middle","titleColor":"#000"}},
    "y":{"field":"hi","type":"quantitative","axis":null}}},
  {"mark":{"type":"line","stroke":"#444","strokeWidth":1,"strokeDash":[4,3],"interpolate":"monotone"},
   "encoding":{"x":{"field":"L","type":"quantitative","axis":null},"y":{"field":"lo","type":"quantitative","axis":null}}},
  {"data":{"name":"ref"},"mark":{"type":"line","stroke":"#555","strokeWidth":1,"strokeDash":[1,2]},
   "encoding":{"x":{"field":"L","type":"quantitative","axis":null},"y":{"field":"P","type":"quantitative","axis":null},"order":{"field":"o","type":"quantitative"}}},
  {"data":{"values":[{"lab":"B"}]},"mark":{"type":"text","font":"Open Sans","fontSize":18,"color":"#111"},
   "encoding":{"x":{"datum":267.5,"type":"quantitative","axis":null},"y":{"datum":0.83,"type":"quantitative","axis":null},"text":{"field":"lab"}}}
 ],
 "resolve":{"axis":{"x":"independent","y":"independent"}}}
],
"columns":1,
"spacing":51,
"align":"none",
"resolve":{"scale":{"fill":"shared"}}
}
